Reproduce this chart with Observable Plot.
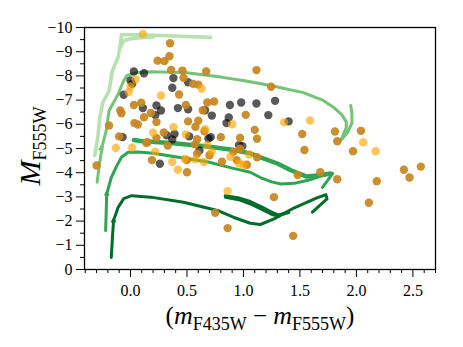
<!DOCTYPE html>
<html><head><meta charset="utf-8">
<script src="https://cdn.jsdelivr.net/npm/d3@7"></script>
<script src="https://cdn.jsdelivr.net/npm/@observablehq/plot@0.6"></script>
<style>html,body{margin:0;padding:0;background:#fff;} svg{display:block;}</style>
</head><body><div id="chart"></div>
<script>
// ---- Data (colour index, absolute magnitude) ----
const blackStars = [[0.03,-8.18],[0.12,-8.11],[0.00,-7.81],[0.015,-7.67],[-0.06,-7.22],[0.38,-7.91],[0.37,-7.51],[0.51,-7.74],[0.11,-6.67],[0.23,-6.78],[0.27,-6.57],[0.22,-6.38],[0.42,-6.67],[0.51,-6.62],[0.66,-6.58],[0.72,-6.36],[0.88,-6.80],[0.98,-6.90],[1.115,-6.86],[1.28,-6.97],[0.87,-6.28],[1.22,-6.38],[0.85,-6.05],[1.40,-6.12],[-0.07,-5.47],[0.32,-5.55],[0.39,-5.60],[0.37,-5.37],[0.52,-5.50],[0.69,-5.41],[0.71,-5.47],[0.61,-4.92],[0.26,-4.37],[0.96,-5.14],[0.99,-5.10]];
const darkOrangeStars = [[0.35,-9.35],[0.24,-8.63],[0.30,-8.61],[0.345,-8.81],[0.36,-8.25],[0.46,-8.22],[0.47,-7.92],[0.67,-8.18],[0.555,-7.67],[0.60,-7.64],[0.43,-7.23],[0.03,-6.80],[0.095,-6.89],[0.18,-6.47],[0.12,-6.29],[-0.09,-6.57],[-0.08,-6.46],[0.49,-6.80],[0.64,-6.58],[0.68,-6.90],[0.74,-6.94],[0.51,-6.12],[0.575,-5.90],[0.60,-6.15],[0.23,-6.09],[-0.19,-5.95],[0.035,-6.05],[0.065,-5.99],[1.115,-8.24],[1.245,-7.55],[1.02,-6.39],[1.10,-5.77],[0.80,-5.47],[0.97,-5.44],[1.12,-5.40],[1.52,-5.60],[1.81,-5.70],[2.04,-5.73],[1.83,-5.30],[1.54,-4.94],[1.97,-4.89],[1.48,-3.90],[1.68,-4.02],[1.83,-3.73],[2.18,-3.65],[2.42,-4.12],[2.47,-3.80],[2.57,-4.25],[1.27,-2.99],[2.11,-2.76],[0.86,-1.71],[1.44,-1.39],[0.75,-2.34],[-0.30,-4.30],[-0.10,-5.50],[0.15,-5.26],[0.19,-4.52],[0.295,-5.66],[0.23,-5.44],[0.33,-5.12],[0.50,-4.52],[0.50,-4.02],[0.57,-5.17],[0.59,-5.38],[0.70,-4.72],[0.81,-4.45],[0.91,-4.86],[0.97,-4.99],[0.94,-4.52],[1.03,-4.33],[1.12,-4.64],[0.59,-4.78],[0.655,-5.71],[0.14,-5.24]];
const lightOrangeStars = [[0.11,-9.73],[0.27,-7.19],[0.63,-7.47],[0.045,-7.85],[0.00,-7.56],[-0.015,-7.33],[0.90,-6.00],[1.36,-6.08],[1.59,-6.16],[2.06,-5.26],[2.17,-4.89],[0.86,-3.24],[-0.13,-5.02],[0.015,-5.03],[0.20,-5.65],[0.38,-5.88],[0.49,-5.58],[0.66,-5.80],[0.68,-5.14],[0.72,-4.86],[0.22,-4.87],[0.37,-4.44],[0.42,-4.12],[0.575,-4.55],[0.65,-4.44],[0.885,-4.66],[1.05,-4.75],[0.96,-4.38],[1.00,-4.33],[0.48,-4.57]];

// evolutionary tracks
const track1 = [[-0.316,-4.71],[-0.29,-5.45],[-0.27,-6.3],[-0.245,-6.9],[-0.19,-7.38],[-0.16,-8.21],[-0.11,-8.76],[-0.09,-9.31],[-0.08,-9.70],[0.065,-9.70],[0.33,-9.66],[0.71,-9.59]];
const track1Knee = [[-0.082,-9.25],[-0.065,-9.45],[0.02,-9.56],[0.20,-9.62]];
const track2 = [[-0.295,-3.61],[-0.275,-4.37],[-0.245,-5.19],[-0.215,-5.74],[-0.19,-6.56],[-0.11,-7.24],[-0.06,-7.80],[-0.03,-8.02],[0.05,-8.13],[0.18,-8.17],[0.48,-8.14],[0.80,-7.95],[1.01,-7.80],[1.24,-7.60],[1.53,-7.31],[1.70,-7.0],[1.80,-6.69],[1.87,-6.40],[1.91,-6.10],[1.91,-5.85],[1.86,-5.33],[1.92,-5.65],[1.96,-6.05],[1.96,-6.45],[1.95,-6.78]];
const track3 = [[-0.22,-1.61],[-0.21,-3.13],[-0.17,-3.80],[-0.127,-4.23],[-0.08,-4.64],[-0.02,-4.85],[0.065,-4.86],[0.20,-4.80],[0.48,-4.60],[0.68,-4.45],[0.91,-4.18],[1.06,-4.02],[1.15,-3.80],[1.25,-3.62],[1.33,-3.53],[1.45,-3.56],[1.58,-3.70],[1.70,-3.88],[1.79,-3.97],[1.70,-3.39]];
const track3Loop = [[0.03,-5.35],[0.09,-5.31],[0.38,-5.22],[0.68,-5.08],[0.90,-4.95],[1.06,-4.80],[1.15,-4.63],[1.30,-4.38],[1.42,-4.10],[1.56,-3.84],[1.68,-3.90],[1.77,-3.97]];
const track4 = [[-0.17,-0.50],[-0.16,-1.30],[-0.15,-2.02],[-0.11,-2.56],[-0.06,-2.93],[0.01,-3.05],[0.18,-2.99],[0.47,-2.78],[0.77,-2.44],[0.91,-2.16],[1.06,-1.91],[1.15,-1.86],[1.27,-2.09],[1.45,-2.55],[1.65,-2.96],[1.73,-3.09],[1.74,-2.92],[1.61,-2.37]];
const track4LoopA = [[0.84,-3.04],[0.95,-2.96],[1.06,-2.80],[1.15,-2.60],[1.24,-2.38],[1.31,-2.24],[1.40,-2.36]];
const track4LoopB = [[0.84,-2.97],[0.97,-2.86],[1.08,-2.66],[1.18,-2.43],[1.26,-2.25],[1.32,-2.20]];
const arrowMarks2 = [[-0.262,-5.0]];
const arrowMarks3 = [[-0.21,-3.13]];
const arrowMarks4 = [[-0.15,-2.02]];

const yMajor = [0,-1,-2,-3,-4,-5,-6,-7,-8,-9,-10];
const yMinor = [-0.5,-1.5,-2.5,-3.5,-4.5,-5.5,-6.5,-7.5,-8.5,-9.5];
const xMajor = [0,0.5,1,1.5,2,2.5];
const xMinor = [-0.4,-0.3,-0.2,-0.1,0.1,0.2,0.3,0.4,0.6,0.7,0.8,0.9,1.1,1.2,1.3,1.4,1.6,1.7,1.8,1.9,2.1,2.2,2.3,2.4,2.6,2.7];

const FONT = "Liberation Serif";
const X = d => d[0], Y = d => d[1];
const line = (data, stroke, w, op=1) => Plot.line(data, {x: X, y: Y, stroke, strokeWidth: w, strokeOpacity: op, curve: "linear", strokeLinecap: "round", strokeLinejoin: "round"});
const tri = (data, fill) => Plot.dot(data, {x: X, y: Y, symbol: "triangle", r: 2.2, fill, stroke: "none"});

const plot = Plot.plot({
  width: 463, height: 347,
  marginLeft: 84, marginRight: 28, marginTop: 27, marginBottom: 78,
  x: {domain: [-0.407, 2.70], axis: null},
  y: {domain: [0, -10], axis: null},
  style: {fontFamily: FONT, fontSize: "16px", background: "white", color: "black"},
  marks: [
    line(track1, "#b2e0ab", 3.6, 0.95),
    line(track1Knee, "#b2e0ab", 4, 0.9),
    line(track2, "#74c476", 3),
    tri(arrowMarks2, "#74c476"),
    line(track3, "#31a354", 3),
    line(track3Loop, "#31a354", 4.5),
    tri(arrowMarks3, "#31a354"),
    line(track4, "#006d2c", 3),
    line(track4LoopA, "#006d2c", 3.5),
    line(track4LoopB, "#006d2c", 2.5),
    tri(arrowMarks4, "#006d2c"),
    Plot.dot(blackStars, {x: X, y: Y, r: 4.2, fill: "black", fillOpacity: 0.65}),
    Plot.dot(darkOrangeStars, {x: X, y: Y, r: 4.2, fill: "#c8861e", fillOpacity: 0.92}),
    Plot.dot(lightOrangeStars, {x: X, y: Y, r: 4.2, fill: "#ffa500", fillOpacity: 0.65}),
    Plot.axisY(yMajor, {tickSize: 8, tickPadding: 4, tickFormat: d => d === 0 ? "0" : "\u2212" + Math.abs(d), label: null, fontSize: 16, fontFamily: FONT}),
    Plot.axisY(yMinor, {tickSize: 4, tickFormat: () => "", label: null}),
    Plot.axisX(xMajor, {tickSize: 8, tickPadding: 7, tickFormat: d3.format(".1f"), label: null, fontSize: 16, fontFamily: FONT}),
    Plot.axisX(xMinor, {tickSize: 4, tickFormat: () => "", label: null}),
    Plot.frame({stroke: "black", strokeWidth: 1.3})
  ]
});
document.getElementById("chart").append(plot);

const svg = d3.select(plot);
// drop the empty labels of the minor ticks; force the serif face on all tick labels
svg.selectAll("text").filter(function() { return this.textContent === ""; }).remove();
svg.selectAll("text").attr("font-family", FONT).style("font-family", FONT);
svg.selectAll("g").filter(function() { return this.getAttribute("font-family"); }).attr("font-family", FONT);

// axis labels with subscripts
const yl = svg.append("text")
  .attr("transform", "translate(40,146) rotate(-90)")
  .attr("text-anchor", "middle")
  .attr("font-family", FONT)
  .attr("font-size", 30).attr("fill", "black");
yl.append("tspan").attr("font-style", "italic").text("M");
yl.append("tspan").attr("font-size", 18).attr("dy", 6).text("F555W");

const xl = svg.append("text")
  .attr("x", 260).attr("y", 324)
  .attr("text-anchor", "middle")
  .attr("font-family", FONT)
  .attr("font-size", 25).attr("fill", "black");
xl.append("tspan").text("(");
xl.append("tspan").attr("font-style", "italic").attr("font-size", 26).text("m");
xl.append("tspan").attr("font-size", 18).attr("dy", 6).text("F435W");
xl.append("tspan").attr("dy", -6).text(" \u2212 ");
xl.append("tspan").attr("font-style", "italic").attr("font-size", 26).text("m");
xl.append("tspan").attr("font-size", 18).attr("dy", 6).text("F555W");
xl.append("tspan").attr("dy", -6).text(")");
</script>
</body></html>
